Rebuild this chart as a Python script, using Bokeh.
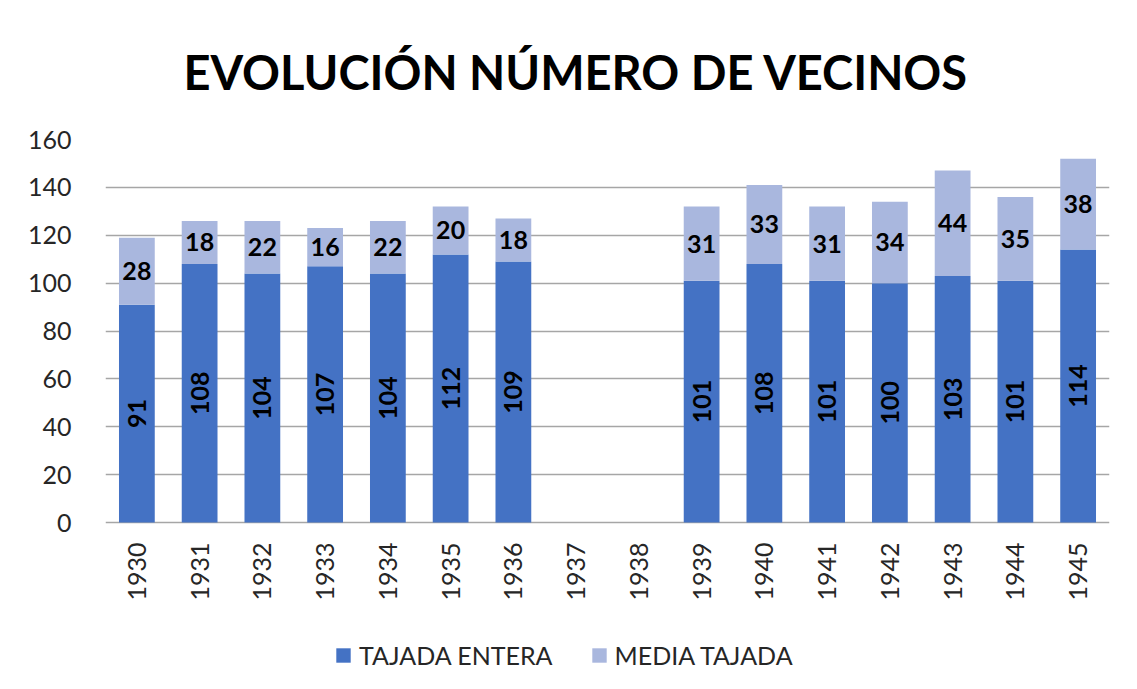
import math
from bokeh.plotting import figure
from bokeh.models import ColumnDataSource, FactorRange, Range1d, Legend, LegendItem, FixedTicker
from bokeh.core.properties import value
from bokeh.embed import file_html
from bokeh.resources import INLINE

years = ["1930", "1931", "1932", "1933", "1934", "1935", "1936", "1937",
         "1938", "1939", "1940", "1941", "1942", "1943", "1944", "1945"]
tajada_entera = [91, 108, 104, 107, 104, 112, 109, None, None, 101, 108, 101, 100, 103, 101, 114]
media_tajada = [28, 18, 22, 16, 22, 20, 18, None, None, 31, 33, 31, 34, 44, 35, 38]
y_ticks = [0, 20, 40, 60, 80, 100, 120, 140, 160]
title_text = "EVOLUCIÓN NÚMERO DE VECINOS"
series_names = ["TAJADA ENTERA", "MEDIA TAJADA"]

DARK = "#4472C4"
LIGHT = "#A9B7DE"
FONT = "Lato"
TXT = "#262626"

# geometry (pixels)
PLOT_H = 383          # height of 0..160 region
BELOW_H = 167         # space below the zero line kept inside the frame
px_per_unit = PLOT_H / (y_ticks[-1] - y_ticks[0])
y_min = -BELOW_H / px_per_unit
label_y = -20 / px_per_unit

keep = [i for i, v in enumerate(tajada_entera) if v is not None]
src = ColumnDataSource(dict(
    x=[years[i] for i in keep],
    ent=[tajada_entera[i] for i in keep],
    med=[media_tajada[i] for i in keep],
    ent_mid=[tajada_entera[i] / 2 for i in keep],
    med_mid=[tajada_entera[i] + media_tajada[i] / 2 for i in keep],
    top=[tajada_entera[i] + media_tajada[i] for i in keep],
    ent_lbl=[str(tajada_entera[i]) for i in keep],
    med_lbl=[str(media_tajada[i]) for i in keep],
))
year_src = ColumnDataSource(dict(x=years, y=[label_y] * len(years), t=years))

p = figure(frame_width=1004, frame_height=PLOT_H + BELOW_H,
           x_range=FactorRange(*years), y_range=Range1d(y_min, y_ticks[-1]),
           output_backend="svg", toolbar_location=None,
           min_border_left=105, min_border_right=26, min_border_top=139, min_border_bottom=0)
p.outline_line_color = None
p.background_fill_color = "white"
p.border_fill_color = "white"

p.title.text = title_text
p.title.text_font = FONT
p.title.text_font_style = "bold"
p.title.text_font_size = "47px"
p.title.text_color = "black"
p.title.align = "left"
p.title.offset = 78
p.title.standoff = 80

r1 = p.vbar(x="x", top="ent", bottom=0, width=0.57, source=src, fill_color=DARK, line_color=None)
r2 = p.vbar(x="x", top="top", bottom="ent", width=0.57, source=src, fill_color=LIGHT, line_color=None)

p.text(x="x", y="ent_mid", text="ent_lbl", source=src, angle=math.pi / 2,
       text_align="center", text_baseline="middle", text_font=value(FONT),
       text_font_style="bold", text_font_size="25px", text_color="black")
p.text(x="x", y="med_mid", text="med_lbl", source=src,
       text_align="center", text_baseline="middle", text_font=value(FONT),
       text_font_style="bold", text_font_size="25px", text_color="black")

# category (year) labels under the zero line, placed through the categorical scale
p.text(x="x", y="y", text="t", source=year_src, angle=math.pi / 2,
       text_align="right", text_baseline="middle", text_font=value(FONT),
       text_font_size="25px", text_color=TXT)

p.yaxis.ticker = FixedTicker(ticks=y_ticks)
p.yaxis.axis_line_color = None
p.yaxis.major_tick_line_color = None
p.yaxis.minor_tick_line_color = None
p.yaxis.major_label_standoff = 28
p.yaxis.major_label_text_font = FONT
p.yaxis.major_label_text_font_size = "25px"
p.yaxis.major_label_text_color = TXT

p.xaxis.visible = False

p.xgrid.grid_line_color = None
p.ygrid.ticker = FixedTicker(ticks=y_ticks)
p.ygrid.grid_line_color = "#A6A6A6"
p.ygrid.grid_line_width = 1.5

legend = Legend(items=[LegendItem(label=series_names[0], renderers=[r1]),
                       LegendItem(label=series_names[1], renderers=[r2])],
                orientation="horizontal", location=(229, 19),
                label_text_font=FONT, label_text_font_size="25px", label_text_color=TXT,
                glyph_width=18, glyph_height=18, label_standoff=7, spacing=37,
                border_line_color=None, background_fill_alpha=0, margin=0, padding=4)
p.add_layout(legend, "center")

open("out.html", "w").write(file_html(p, INLINE))
